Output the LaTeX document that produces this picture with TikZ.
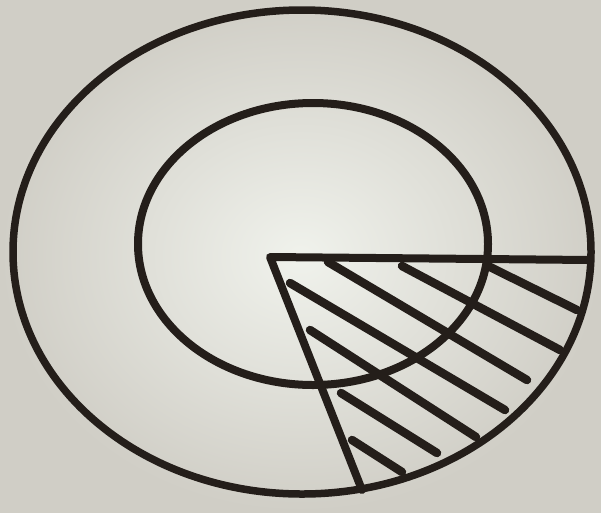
\documentclass[tikz,border=0pt]{standalone}
\begin{document}
\begin{tikzpicture}[x=1pt,y=-1pt,
  ink/.style={draw=inkc,line width=7.5pt,line cap=round,line join=round},
  hatch/.style={draw=inkc,line width=8.5pt,line cap=round}]
\definecolor{inkc}{RGB}{36,30,26}
\definecolor{paperin}{RGB}{240,242,236}
\definecolor{paperout}{RGB}{208,206,198}
% background
\useasboundingbox (0,0) rectangle (601,512);
\shade[inner color=paperin,outer color=paperout] (0,0) rectangle (601,512);
% outer ellipse and inner circle
\draw[ink] (302,252) ellipse [x radius=289, y radius=242];
\draw[ink,line width=8pt] (313,244) ellipse [x radius=175, y radius=141];
% wedge
\coordinate (apex) at (270,257);
\coordinate (east) at (590,260);
\coordinate (south) at (362,490);
\draw[ink,line width=8pt] (east) -- (apex) -- (south);
% hatching
\draw[hatch] (490,267) -- (577,310);
\draw[hatch] (402,266) -- (560,350);
\draw[hatch] (328,262) -- (527,380);
\draw[hatch] (290,283) -- (505,410);
\draw[hatch] (310,330) -- (476,437);
\draw[hatch] (341,393) -- (437,453);
\draw[hatch] (352,440) -- (402,472);
\end{tikzpicture}
\end{document}
